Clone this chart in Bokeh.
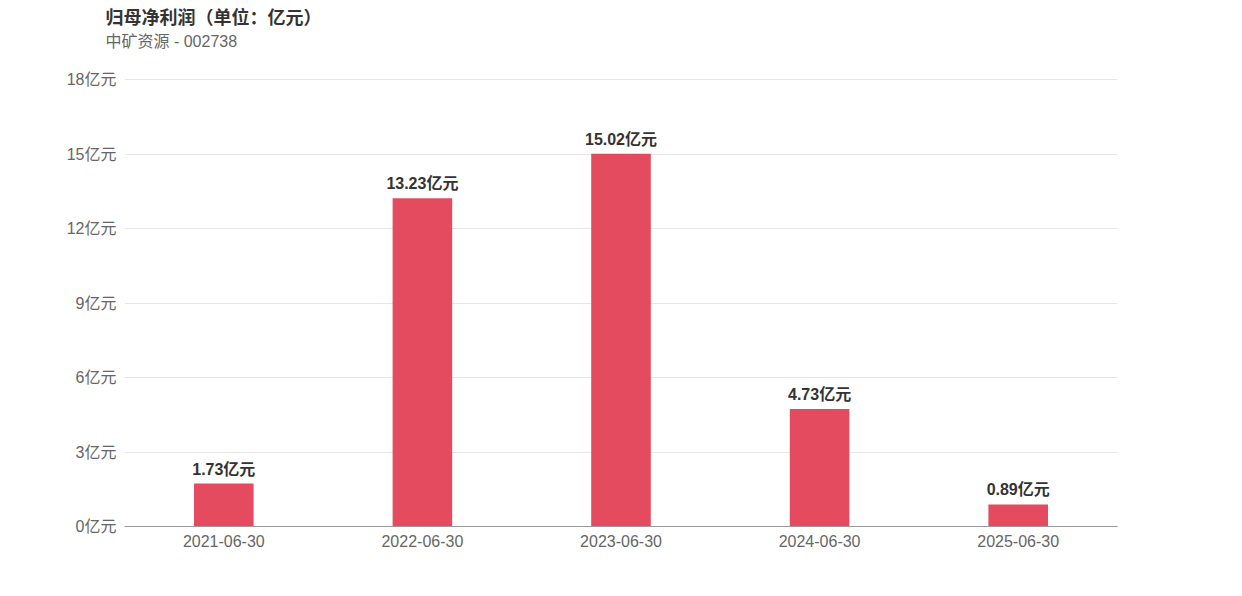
from bokeh.plotting import figure
from bokeh.models import ColumnDataSource, Title, FixedTicker, CustomJSTickFormatter, Range1d
from bokeh.embed import file_html
from bokeh.resources import INLINE

dates = ["2021-06-30", "2022-06-30", "2023-06-30", "2024-06-30", "2025-06-30"]
profits = [1.73, 13.23, 15.02, 4.73, 0.89]
y_ticks = [0, 3, 6, 9, 12, 15, 18]
title_text = "归母净利润（单位：亿元）"
subtitle_text = "中矿资源 - 002738"

FONT = "Liberation Sans, Noto Sans CJK SC, sans-serif"

src = ColumnDataSource(dict(x=dates, y=profits, lbl=[f"{v:.2f}亿元" for v in profits]))

p = figure(x_range=dates, y_range=Range1d(0, 18.05), width=1226, height=580,
           output_backend="svg", toolbar_location=None, title=None,
           min_border_left=124, min_border_right=109, min_border_top=78, min_border_bottom=54)
p.outline_line_color = None
p.background_fill_color = "white"

p.vbar(x="x", top="y", width=0.3, source=src, fill_color="#e54b5e", line_color=None)
p.text(x="x", y="y", text="lbl", source=src, text_align="center", text_baseline="bottom",
       y_offset=-6, text_font_size="16px", text_font_style="bold", text_color="#333333",
       text_font={"value": FONT})

p.yaxis.ticker = FixedTicker(ticks=y_ticks)
p.yaxis.formatter = CustomJSTickFormatter(code="return tick + '亿元';")
p.yaxis.axis_line_color = None
p.yaxis.major_tick_line_color = None
p.yaxis.minor_tick_line_color = None
p.yaxis.major_label_text_font_size = "16px"
p.yaxis.major_label_text_color = "#666666"
p.yaxis.major_label_text_font = FONT
p.yaxis.major_label_standoff = 2

p.xaxis.axis_line_color = "#999999"
p.xaxis.axis_line_width = 1
p.xaxis.major_tick_line_color = None
p.xaxis.minor_tick_line_color = None
p.xaxis.major_label_text_font_size = "16px"
p.xaxis.major_label_text_color = "#666666"
p.xaxis.major_label_text_font = FONT
p.xaxis.major_label_standoff = 2

p.xgrid.grid_line_color = None
p.ygrid.grid_line_color = "#e6e6e6"

p.add_layout(Title(text=subtitle_text, align="left", offset=-19, standoff=57,
                   text_font_size="16px", text_font_style="normal", text_color="#666666",
                   text_font=FONT), "above")
p.add_layout(Title(text=title_text, align="left", offset=-19, standoff=-50,
                   text_font_size="18px", text_font_style="bold", text_color="#333333",
                   text_font=FONT), "above")

open("out.html", "w").write(file_html(p, INLINE))
